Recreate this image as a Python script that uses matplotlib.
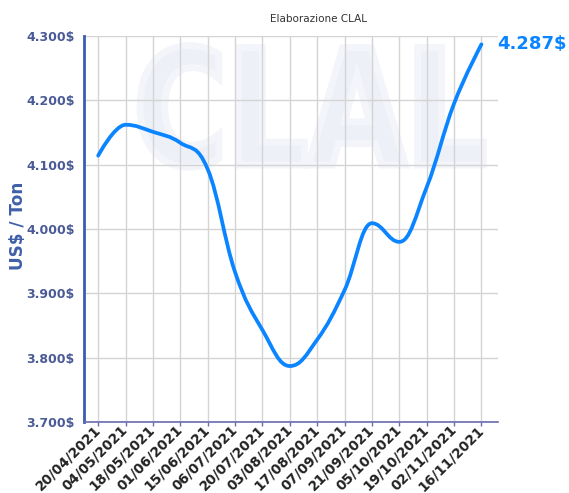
import matplotlib
matplotlib.use("Agg")
import matplotlib.pyplot as plt
import numpy as np
from matplotlib.path import Path
from matplotlib.patches import PathPatch
from matplotlib.textpath import TextPath
from matplotlib.font_manager import FontProperties
from matplotlib.transforms import Affine2D

# dati
date = ['20/04/2021', '04/05/2021', '18/05/2021', '01/06/2021', '15/06/2021',
        '06/07/2021', '20/07/2021', '03/08/2021', '17/08/2021', '07/09/2021',
        '21/09/2021', '05/10/2021', '19/10/2021', '02/11/2021', '16/11/2021']
prezzi = [4114, 4162, 4151, 4134, 4093, 3933, 3843, 3787, 3828, 3905,
          4009, 3980, 4065, 4195, 4287]
y_ticks = [3700, 3800, 3900, 4000, 4100, 4200, 4300]
y_labels = ['3.700$', '3.800$', '3.900$', '4.000$', '4.100$', '4.200$', '4.300$']
ultimo = '4.287$'

blu_linea = '#0a84ff'
blu_asse = '#3b5cb0'
blu_testo = '#4a5a96'


# curva tipo "spline" di highcharts (smoothing 1.5)
def spline(xs, ys):
    n = len(xs)
    verts = [(xs[0], ys[0])]
    codes = [Path.MOVETO]
    right = [None] * n
    for i in range(1, n):
        x, y = xs[i], ys[i]
        left = (x, y)
        if i < n - 1:
            lx, ly = xs[i - 1], ys[i - 1]
            nx, ny = xs[i + 1], ys[i + 1]
            lcx = (1.5 * x + lx) / 2.5
            lcy = (1.5 * y + ly) / 2.5
            rcx = (1.5 * x + nx) / 2.5
            rcy = (1.5 * y + ny) / 2.5
            corr = (rcy - lcy) * (rcx - x) / (rcx - lcx) + y - rcy
            lcy += corr
            rcy += corr
            if lcy > ly and lcy > y:
                lcy = max(ly, y); rcy = 2 * y - lcy
            elif lcy < ly and lcy < y:
                lcy = min(ly, y); rcy = 2 * y - lcy
            if rcy > ny and rcy > y:
                rcy = max(ny, y); lcy = 2 * y - rcy
            elif rcy < ny and rcy < y:
                rcy = min(ny, y); lcy = 2 * y - rcy
            left = (lcx, lcy)
            right[i] = (rcx, rcy)
        prev = right[i - 1] if right[i - 1] is not None else (xs[i - 1], ys[i - 1])
        verts += [prev, left, (x, y)]
        codes += [Path.CURVE4] * 3
    return Path(verts, codes)


fig = plt.figure(figsize=(5.69, 4.93), dpi=100)
ax = fig.add_axes([0.148, 0.144, 0.727, 0.783])

x = np.arange(len(date))
ax.set_xlim(-0.51, len(date) - 1 + 0.6)
ax.set_ylim(3700, 4300)

# filigrana CLAL
tp = TextPath((0, 0), 'CLAL', prop=FontProperties(family='DejaVu Sans', weight='bold'))
bb = tp.get_extents()
x0, x1, y0, y1 = 0.135, 0.965, 0.66, 0.975
tr = Affine2D().translate(-bb.x0, -bb.y0).scale((x1 - x0) / bb.width, (y1 - y0) / bb.height).translate(x0, y0)
ax.add_patch(PathPatch(tr.transform_path(tp), facecolor='#edf0f7', edgecolor='#f3f5fa',
                       linewidth=5, transform=ax.transAxes, zorder=0))

ax.grid(True, color='#d4d4d4', linewidth=1, zorder=1)
ax.set_axisbelow(True)

ax.add_patch(PathPatch(spline(list(x), prezzi), facecolor='none', edgecolor=blu_linea,
                       linewidth=2.7, capstyle='round', joinstyle='round', zorder=3))

ax.set_xticks(x)
ax.set_xticklabels(date, rotation=45, ha='right', va='center', rotation_mode='anchor',
                   fontsize=9.8, fontweight='bold', color='#222222')
ax.set_yticks(y_ticks)
ax.set_yticklabels(y_labels, fontsize=9, fontweight='bold', color=blu_testo)
ax.tick_params(axis='y', length=0, pad=7)
ax.tick_params(axis='x', length=3, width=1, color='#6b6bb0', pad=1)

for s in ['top', 'right']:
    ax.spines[s].set_visible(False)
ax.spines['left'].set_color(blu_asse)
ax.spines['left'].set_linewidth(2)
ax.spines['bottom'].set_color('#6b6bb0')
ax.spines['bottom'].set_linewidth(1.2)

ax.set_ylabel('US$ / Ton', fontsize=12.2, fontweight='bold', color='#3f5fa8')
ax.yaxis.set_label_coords(-0.138, 0.508)

ax.annotate(ultimo, (x[-1], prezzi[-1]), xytext=(11, 0), textcoords='offset points',
            fontsize=13, fontweight='bold', color=blu_linea, va='center', ha='left',
            annotation_clip=False)

fig.text(0.559, 0.961, 'Elaborazione CLAL', fontsize=7.5, color='#333333', ha='center', va='center')

fig.savefig('out.png', dpi=100)
